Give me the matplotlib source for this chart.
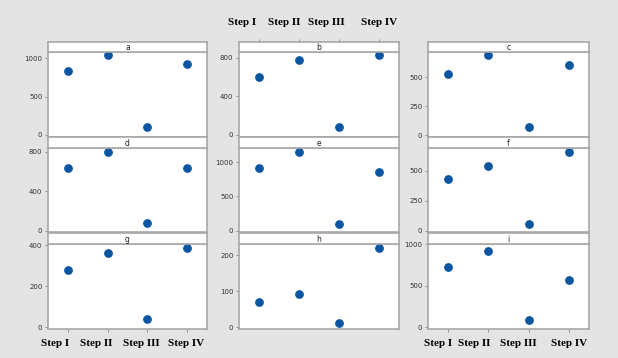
import matplotlib.pyplot as plt
from matplotlib.transforms import ScaledTranslation

steps = ['Step I', 'Step II', 'Step III', 'Step IV']
names = ['a', 'b', 'c', 'd', 'e', 'f', 'g', 'h', 'i']

a = [831, 1039, 104, 918]
b = [606, 779, 80, 831]
c = [529, 694, 67, 605]
d = [641, 800, 74, 635]
e = [926, 1159, 102, 862]
f = [436, 542, 53, 658]
g = [278, 363, 39, 387]
h = [71, 93, 11, 222]
i = [731, 923, 92, 567]
values = [a, b, c, d, e, f, g, h, i]

yticks = [[0, 500, 1000], [0, 400, 800], [0, 250, 500],
          [0, 400, 800], [0, 500, 1000], [0, 250, 500],
          [0, 200, 400], [0, 100, 200], [0, 500, 1000]]
ylims = [(-26, 1078), (-21, 862), (-17, 720),
         (-15, 840), (-22, 1213), (-12, 692),
         (-9, 405), (-5, 232), (-22, 1004)]

W, H = 618, 358
bg = '#e4e4e4'
frame = '#a8a8a8'
blue = '#0b56a0'

fig = plt.figure(figsize=(W / 100, H / 100), dpi=100, facecolor=bg)

cols = [(48, 207), (239, 399), (428, 589)]
rows = [(42, 52, 137), (137, 148, 232), (233, 244, 329)]

# the step labels sit a little left of their ticks in the original
shift_bottom_left = [-13, -11, -6, -1]
shift_bottom_right = [-10, -14, -10, 0]
shift_top = [-17, -15, -13, 0]


def box(x0, y0, x1, y1):
    return [x0 / W, 1 - y1 / H, (x1 - x0) / W, (y1 - y0) / H]


def shift_labels(labels, shifts):
    for lab, dx in zip(labels, shifts):
        lab.set_transform(lab.get_transform() +
                          ScaledTranslation(dx / 100, 0, fig.dpi_scale_trans))


label_font = dict(family='Liberation Serif', weight='bold', size=8)

for k in range(9):
    r, cl = divmod(k, 3)
    x0, x1 = cols[cl]
    st, pt, pb = rows[r]

    ax = fig.add_axes(box(x0, pt, x1, pb))
    ax.scatter(range(4), values[k], s=28, color=blue, zorder=3)
    ax.set_xlim(-0.5, 3.5)
    ax.set_ylim(*ylims[k])
    ax.set_yticks(yticks[k])
    ax.tick_params(axis='y', labelsize=5, length=2.5, width=0.6,
                   color='#808080', labelcolor='#333333', pad=1.5)
    ax.set_xticks(range(4))
    if r == 2 and cl != 1:
        labs = ax.set_xticklabels(steps, fontdict=label_font)
        ax.tick_params(axis='x', length=2.5, width=0.6, color='#808080', pad=5)
        shift_labels(labs, shift_bottom_left if cl == 0 else shift_bottom_right)
    else:
        ax.tick_params(axis='x', bottom=False, labelbottom=False)
    for sp in ax.spines.values():
        sp.set_color(frame)
        sp.set_linewidth(1.2)

    sax = fig.add_axes(box(x0, st, x1, pt))
    sax.set_xlim(-0.5, 3.5)
    sax.set_yticks([])
    sax.set_xticks(range(4))
    if r == 0 and cl == 1:
        sax.xaxis.tick_top()
        labs = sax.set_xticklabels(steps, fontdict=label_font)
        sax.tick_params(axis='x', length=2.5, width=0.6, color='#808080', pad=8)
        shift_labels(labs, shift_top)
    else:
        sax.tick_params(axis='x', bottom=False, labelbottom=False)
    for sp in sax.spines.values():
        sp.set_color(frame)
        sp.set_linewidth(1.2)
    sax.text(0.5, 0.45, names[k], transform=sax.transAxes, ha='center',
             va='center', fontsize=5.5, color='#222222')

fig.savefig('out.png', dpi=100, facecolor=bg)
